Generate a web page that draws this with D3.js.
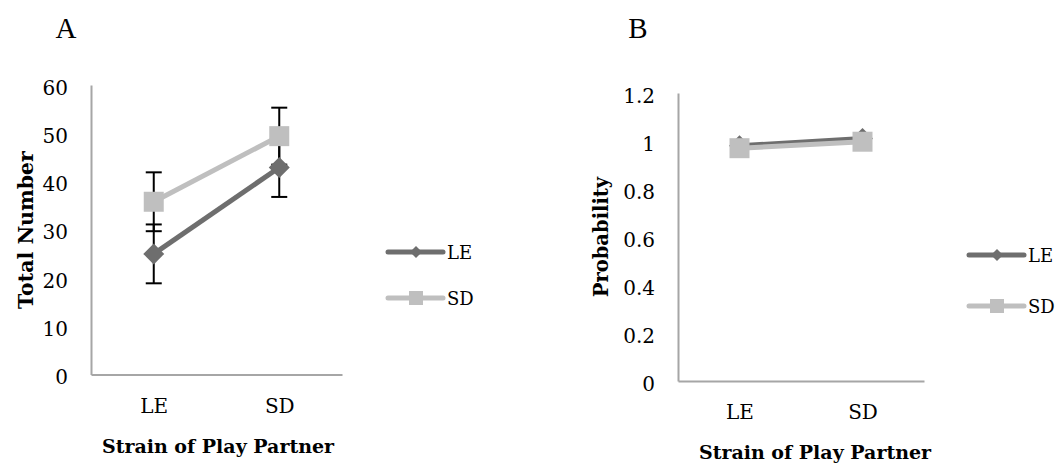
<!DOCTYPE html>
<html>
<head>
<meta charset="utf-8">
<script src="https://cdn.jsdelivr.net/npm/d3@7"></script>
<style>
  body { margin: 0; background: #fff; }
  text { font-family: "DejaVu Serif", serif; }
  text.letter { font-family: "Liberation Serif", serif; }
</style>
</head>
<body>
<div id="chart"></div>
<script>
// categories and series
const categories = ["LE", "SD"];
const seriesNames = ["LE", "SD"];

// panel A: total number
const totalLE = [25.0, 42.9];
const totalSD = [35.8, 49.4];
const totalErrLE = [6.1, 6.1];
const totalErrSD = [6.1, 5.9];
const totalTicks = [0, 10, 20, 30, 40, 50, 60];

// panel B: probability
const probLE = [0.98, 1.01];
const probSD = [0.970, 0.997];
const probErrLE = [0.01, 0.01];
const probErrSD = [0.01, 0.01];
const probTicks = [0, 0.2, 0.4, 0.6, 0.8, 1, 1.2];

const width = 1060, height = 465;
const darkGray = "#6e6e6e", lightGray = "#bfbfbf", axisGray = "#a6a6a6";

const svg = d3.select("#chart").append("svg")
    .attr("width", width)
    .attr("height", height)
    .style("display", "block");

function drawPanel(opt) {
    const x = d3.scalePoint()
        .domain(categories)
        .range([opt.left, opt.right])
        .padding(0.5);

    const y = d3.scaleLinear()
        .domain([0, d3.max(opt.ticks)])
        .range([opt.bottom, opt.top]);

    const g = svg.append("g");

    // panel letter
    g.append("text")
        .attr("class", "letter")
        .attr("x", opt.letterX).attr("y", 38)
        .attr("text-anchor", "middle")
        .attr("font-size", 29)
        .text(opt.letter);

    // y axis
    g.append("g")
        .attr("transform", `translate(${opt.left},0)`)
        .call(d3.axisLeft(y).tickValues(opt.ticks).tickSize(0).tickPadding(23).tickFormat(opt.fmt))
        .call(a => a.select(".domain").attr("stroke", axisGray).attr("stroke-width", 2))
        .call(a => a.selectAll("text").attr("font-size", 20).attr("fill", "#000").attr("dy", "0.45em"));

    // x axis
    g.append("g")
        .attr("transform", `translate(0,${opt.bottom})`)
        .call(d3.axisBottom(x).tickSize(0).tickPadding(24))
        .call(a => a.select(".domain").attr("stroke", axisGray).attr("stroke-width", 2))
        .call(a => a.selectAll("text").attr("font-size", 20).attr("fill", "#000"));

    // axis titles
    g.append("text")
        .attr("transform", `translate(${opt.yTitleX},${opt.yTitleY}) rotate(-90)`)
        .attr("text-anchor", "middle")
        .attr("font-weight", "bold")
        .attr("font-size", opt.yTitleSize)
        .text(opt.yTitle);

    g.append("text")
        .attr("x", opt.xTitleX).attr("y", opt.xTitleY)
        .attr("text-anchor", "middle")
        .attr("font-weight", "bold")
        .attr("font-size", 19)
        .text("Strain of Play Partner");

    const series = [
        { name: seriesNames[0], values: opt.s1, err: opt.e1, color: darkGray, marker: "diamond" },
        { name: seriesNames[1], values: opt.s2, err: opt.e2, color: lightGray, marker: "square" }
    ];

    // error bars
    series.forEach(s => {
        const eb = g.append("g").attr("stroke", "#000").attr("stroke-width", 2);
        s.values.forEach((v, i) => {
            const cx = x(categories[i]);
            eb.append("line").attr("x1", cx).attr("x2", cx)
                .attr("y1", y(v - s.err[i])).attr("y2", y(v + s.err[i]));
            [v - s.err[i], v + s.err[i]].forEach(e => {
                eb.append("line").attr("x1", cx - 8).attr("x2", cx + 8)
                    .attr("y1", y(e)).attr("y2", y(e));
            });
        });
    });

    const line = d3.line().x((d, i) => x(categories[i])).y(d => y(d));

    series.forEach(s => {
        g.append("path")
            .datum(s.values)
            .attr("fill", "none")
            .attr("stroke", s.color)
            .attr("stroke-width", 5)
            .attr("d", line);
        g.selectAll(null)
            .data(s.values)
            .join("path")
            .attr("transform", (d, i) => `translate(${x(categories[i])},${y(d)})`)
            .attr("fill", s.color)
            .attr("d", s.marker === "diamond"
                ? "M0,-10.5L10.5,0L0,10.5L-10.5,0Z"
                : "M-10,-10H10V10H-10Z");
    });

    // legend
    series.forEach((s, i) => {
        const ly = opt.legendY + i * opt.legendGap;
        const lg = g.append("g");
        lg.append("line")
            .attr("x1", opt.legendX).attr("x2", opt.legendX + 55)
            .attr("y1", ly).attr("y2", ly)
            .attr("stroke", s.color).attr("stroke-width", 5)
            .attr("stroke-linecap", "round");
        lg.append("path")
            .attr("transform", `translate(${opt.legendX + 28},${ly})`)
            .attr("fill", s.color)
            .attr("d", s.marker === "diamond" ? "M0,-6L6,0L0,6L-6,0Z" : "M-7,-7H7V7H-7Z");
        lg.append("text")
            .attr("x", opt.legendX + 59).attr("y", ly + 6.5)
            .attr("font-size", 18)
            .text(s.name);
    });
}

drawPanel({
    letter: "A", letterX: 66,
    left: 91, right: 342, top: 85, bottom: 374.5,
    ticks: totalTicks, fmt: d3.format("d"),
    s1: totalLE, s2: totalSD, e1: totalErrLE, e2: totalErrSD,
    yTitle: "Total Number", yTitleX: 33, yTitleY: 230, yTitleSize: 20.5,
    xTitleX: 218, xTitleY: 453,
    legendX: 388, legendY: 252, legendGap: 46
});

drawPanel({
    letter: "B", letterX: 638,
    left: 678, right: 924, top: 93, bottom: 381,
    ticks: probTicks, fmt: d => d3.format("")(+d.toFixed(1)),
    s1: probLE, s2: probSD, e1: probErrLE, e2: probErrSD,
    yTitle: "Probability", yTitleX: 608, yTitleY: 237, yTitleSize: 19.5,
    xTitleX: 815, xTitleY: 459,
    legendX: 969, legendY: 255, legendGap: 51
});
</script>
</body>
</html>
